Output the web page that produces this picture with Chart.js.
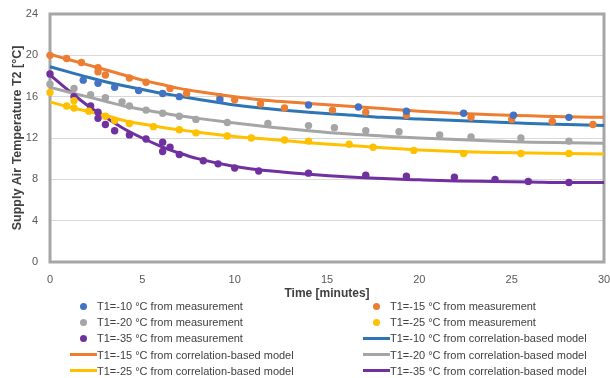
<!DOCTYPE html>
<html><head><meta charset="utf-8">
<script src="https://cdn.jsdelivr.net/npm/chart.js@4"></script>
<style>
html,body{margin:0;padding:0;background:#fff;}
#wrap{position:relative;width:610px;height:378px;overflow:hidden;}
#legend{position:absolute;left:0;top:0;width:610px;height:378px;font-family:"Liberation Sans",Arial,sans-serif;font-size:11px;color:#404040;pointer-events:none;}
.item{position:absolute;height:16px;display:flex;align-items:center;white-space:nowrap;}
.mk{width:27px;height:16px;position:relative;flex:none;}
.mk .dot{position:absolute;left:50%;top:50%;width:7px;height:7px;margin:-3.5px 0 0 -3.5px;border-radius:50%;}
.mk .ln{position:absolute;left:0;right:0;top:50%;height:3px;margin-top:-1.5px;}
</style></head>
<body><div id="wrap"><canvas id="c" width="610" height="378"></canvas><div id="legend"></div></div>
<script>
// ---- Measurements ----
const meas10X = [1.8, 2.6, 3.5, 4.8, 6.1, 7.0, 9.2, 14.0, 16.7, 19.3, 22.4, 25.1, 28.1];
const meas10Y = [17.6, 17.3, 16.9, 16.6, 16.3, 16.0, 15.7, 15.2, 15.0, 14.6, 14.4, 14.2, 14.0];

const meas15X = [0, 0.9, 1.7, 2.6, 2.6, 3.0, 4.3, 5.2, 6.5, 7.4, 9.2, 10.0, 11.4, 12.7, 15.3, 17.1, 19.3, 22.8, 25.0, 27.2, 29.4];
const meas15Y = [20.0, 19.7, 19.3, 18.8, 18.4, 18.1, 17.8, 17.4, 16.8, 16.3, 16.0, 15.7, 15.3, 14.9, 14.7, 14.5, 14.2, 14.0, 13.8, 13.6, 13.3];

const meas20X = [0, 1.3, 2.2, 3.0, 3.9, 4.3, 5.2, 6.1, 7.0, 7.9, 9.6, 11.8, 14.0, 15.4, 17.1, 18.9, 21.1, 22.8, 25.5, 28.1];
const meas20Y = [17.2, 16.8, 16.2, 15.9, 15.5, 15.1, 14.7, 14.4, 14.1, 13.8, 13.5, 13.4, 13.2, 13.0, 12.7, 12.6, 12.3, 12.1, 12.0, 11.7];

const meas25X = [0, 0.9, 1.3, 1.3, 2.1, 3.0, 3.5, 4.3, 5.6, 7.0, 7.9, 9.6, 10.9, 12.7, 14.0, 16.2, 17.5, 19.7, 22.4, 25.5, 28.1];
const meas25Y = [16.4, 15.1, 15.6, 14.9, 14.6, 14.1, 13.7, 13.4, 13.1, 12.8, 12.5, 12.2, 12.0, 11.8, 11.7, 11.4, 11.1, 10.8, 10.5, 10.5, 10.5];

const meas35X = [0, 1.3, 2.2, 2.6, 2.6, 3.0, 3.5, 4.3, 5.2, 6.1, 6.1, 6.5, 7.0, 8.3, 9.1, 10.0, 11.3, 14.0, 17.1, 19.3, 21.9, 24.1, 25.9, 28.1];
const meas35Y = [18.2, 16.0, 15.1, 14.5, 13.9, 13.3, 12.7, 12.3, 11.9, 11.6, 10.7, 11.1, 10.4, 9.8, 9.5, 9.1, 8.8, 8.6, 8.4, 8.3, 8.2, 8.0, 7.8, 7.7];

// ---- Correlation-based model ----
const modelTime = [0, 1, 2, 3, 4, 5, 6, 7, 8, 10, 12, 14, 16, 18, 20, 22, 24, 26, 28, 30];
const model10 = [18.9, 18.4, 17.9, 17.45, 17.05, 16.7, 16.35, 16.05, 15.75, 15.2, 14.8, 14.5, 14.25, 14.0, 13.85, 13.7, 13.55, 13.4, 13.3, 13.2];
const model15 = [20.1, 19.6, 19.1, 18.6, 18.1, 17.6, 17.2, 16.8, 16.5, 16.0, 15.6, 15.35, 15.1, 14.85, 14.6, 14.4, 14.25, 14.15, 14.05, 14.0];
const model20 = [16.9, 16.45, 16.0, 15.55, 15.1, 14.75, 14.45, 14.15, 13.9, 13.45, 13.05, 12.7, 12.4, 12.2, 12.0, 11.85, 11.7, 11.6, 11.55, 11.5];
const model25 = [15.5, 15.0, 14.6, 14.2, 13.7, 13.35, 13.05, 12.8, 12.55, 12.15, 11.85, 11.55, 11.3, 11.05, 10.85, 10.7, 10.6, 10.55, 10.5, 10.45];
const model35 = [18.1, 16.6, 15.2, 14.0, 12.9, 12.0, 11.2, 10.55, 10.0, 9.25, 8.8, 8.5, 8.25, 8.07, 7.95, 7.85, 7.8, 7.75, 7.7, 7.7];

const xTicks = [0, 5, 10, 15, 20, 25, 30];
const yTicks = [0, 4, 8, 12, 16, 20, 24];

const labels = {
  m10: 'T1=-10 °C from measurement', m15: 'T1=-15 °C from measurement',
  m20: 'T1=-20 °C from measurement', m25: 'T1=-25 °C from measurement',
  m35: 'T1=-35 °C from measurement',
  l10: 'T1=-10 °C from correlation-based model', l15: 'T1=-15 °C from correlation-based model',
  l20: 'T1=-20 °C from correlation-based model', l25: 'T1=-25 °C from correlation-based model',
  l35: 'T1=-35 °C from correlation-based model'
};

const pts = (xs, ys) => xs.map((x, i) => ({x: x, y: ys[i]}));

function measDs(label, xs, ys, color) {
  return {label, data: pts(xs, ys), showLine: false, pointRadius: 3.7, pointHoverRadius: 3.7,
    pointBackgroundColor: color, pointBorderColor: color, pointBorderWidth: 0, backgroundColor: color, borderColor: color, clip: false};
}
function modelDs(label, ys, color) {
  return {label, data: pts(modelTime, ys), showLine: true, pointRadius: 0, borderWidth: 3,
    borderColor: color, backgroundColor: color, tension: 0.4, cubicInterpolationMode: 'monotone', fill: false, clip: false};
}

const datasets = [
  measDs(labels.m10, meas10X, meas10Y, '#4472C4'),
  measDs(labels.m15, meas15X, meas15Y, '#ED7D31'),
  measDs(labels.m20, meas20X, meas20Y, '#A5A5A5'),
  measDs(labels.m25, meas25X, meas25Y, '#FFC000'),
  measDs(labels.m35, meas35X, meas35Y, '#7030A0'),
  modelDs(labels.l10, model10, '#2E75B6'),
  modelDs(labels.l15, model15, '#ED7D31'),
  modelDs(labels.l20, model20, '#A5A5A5'),
  modelDs(labels.l25, model25, '#FFC000'),
  modelDs(labels.l35, model35, '#7030A0')
];

const framePlugin = {
  id: 'frame',
  beforeDatasetsDraw(chart) {
    const {ctx, chartArea: a} = chart;
    ctx.save();
    ctx.strokeStyle = '#A6A6A6';
    ctx.lineWidth = 3;
    ctx.strokeRect(a.left, a.top, a.right - a.left, a.bottom - a.top);
    ctx.restore();
  }
};

Chart.defaults.font.family = '"Liberation Sans", Arial, sans-serif';
Chart.defaults.color = '#595959';

const zeroPad = s => { s.paddingLeft = 0; s.paddingRight = 0; s.paddingTop = 0; s.paddingBottom = 0; };

const chart = new Chart(document.getElementById('c'), {
  type: 'scatter',
  data: {datasets},
  plugins: [framePlugin],
  options: {
    responsive: false,
    animation: false,
    devicePixelRatio: 1,
    layout: {padding: {top: 14, right: 6, left: 0, bottom: 0}},
    plugins: {legend: {display: false}, tooltip: {enabled: false}},
    scales: {
      x: {
        type: 'linear', min: 0, max: 30,
        afterBuildTicks: s => { s.ticks = xTicks.map(v => ({value: v})); },
        afterFit: s => { s.height = 116; zeroPad(s); },
        grid: {display: false, drawTicks: false},
        border: {display: false},
        ticks: {padding: 11, font: {size: 11}, color: '#595959'},
        title: {display: true, text: 'Time [minutes]', color: '#404040',
          font: {size: 12, weight: 'bold'}, padding: {top: 0, bottom: 77}}
      },
      y: {
        type: 'linear', min: 0, max: 24,
        afterBuildTicks: s => { s.ticks = yTicks.map(v => ({value: v})); },
        afterFit: s => { s.width = 50; zeroPad(s); },
        grid: {color: '#D9D9D9', lineWidth: 1, drawTicks: false},
        border: {display: false},
        ticks: {padding: 12, font: {size: 11}, color: '#595959'},
        title: {display: true, text: 'Supply Air Temperature T2 [°C]', color: '#404040',
          font: {size: 12.5, weight: 'bold'}, padding: {top: 10, bottom: 0}}
      }
    }
  }
});

// HTML legend built from the chart's datasets, two columns, row-major
const legend = document.getElementById('legend');
const colX = [70, 363];
const rowY0 = 306, rowH = 16.2;
chart.data.datasets.forEach((ds, i) => {
  const col = i % 2, row = Math.floor(i / 2);
  const item = document.createElement('div');
  item.className = 'item';
  item.style.left = colX[col] + 'px';
  item.style.top = (rowY0 + row * rowH - 8) + 'px';
  const mk = document.createElement('div');
  mk.className = 'mk';
  const sym = document.createElement('div');
  if (ds.showLine) { sym.className = 'ln'; sym.style.background = ds.borderColor; }
  else { sym.className = 'dot'; sym.style.background = ds.pointBackgroundColor; }
  mk.appendChild(sym);
  const tx = document.createElement('span');
  tx.textContent = ds.label;
  item.appendChild(mk); item.appendChild(tx);
  legend.appendChild(item);
});
</script>
</body></html>
